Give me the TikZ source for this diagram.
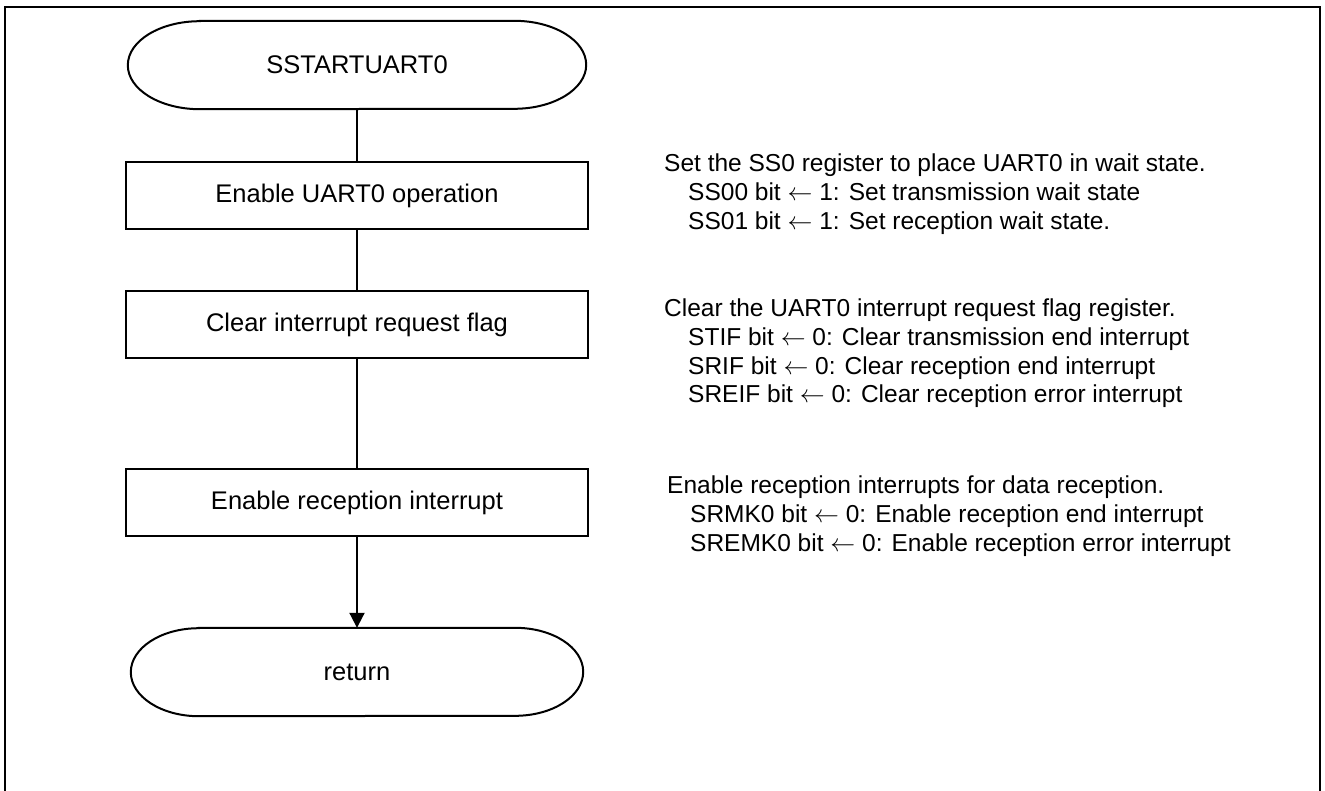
\documentclass[tikz,border=0pt]{standalone}
\usepackage{fontspec}
\setmainfont{Liberation Sans}
\usetikzlibrary{arrows.meta}
\begin{document}
\begin{tikzpicture}[x=1pt,y=-1pt,
  line/.style={line width=2pt},
  proc/.style={draw, line width=2pt, minimum width=462pt, minimum height=67pt, inner sep=0pt, font=\fontsize{25.5}{30}\selectfont},
  term/.style={minimum height=88pt, inner sep=0pt, font=\fontsize{25.5}{30}\selectfont},
  note/.style={anchor=base west, inner sep=0pt, font=\fontsize{24.5}{29}\selectfont},
  ]
\useasboundingbox (0,0) rectangle (1325,790);
\draw[line width=2.5pt] (5,791) -- (5,7) -- (1320,7) -- (1320,791);

% start terminator
\node[term, minimum width=458pt] (start) at (357,65) {SSTARTUART0};
\draw[line] ([xshift=72pt]start.north west) -- ([xshift=-72pt]start.north east)
  arc[start angle=90,end angle=-90,x radius=72pt,y radius=44pt]
  -- ([xshift=72pt]start.south west)
  arc[start angle=270,end angle=90,x radius=72pt,y radius=44pt] -- cycle;

\node[proc] (b1) at (357,195.5) {Enable UART0 operation};
\node[proc] (b2) at (357,324.5) {Clear interrupt request flag};
\node[proc] (b3) at (357,502.5) {Enable reception interrupt};

% return terminator
\node[term, minimum width=452pt] (ret) at (357,672) {return};
\draw[line] ([xshift=68pt]ret.north west) -- ([xshift=-68pt]ret.north east)
  arc[start angle=90,end angle=-90,x radius=68pt,y radius=44pt]
  -- ([xshift=68pt]ret.south west)
  arc[start angle=270,end angle=90,x radius=68pt,y radius=44pt] -- cycle;

\draw[line] (start) -- (b1);
\draw[line] (b1) -- (b2);
\draw[line] (b2) -- (b3);
\draw[line, -{Triangle[length=15pt,width=15pt]}] (b3) -- (ret);

% notes
\node[note] (n1a) at (664,171) {Set the SS0 register to place UART0 in wait state.};
\node[note] (n1b) at (688,200) {SS00 bit $\leftarrow$ 1: Set transmission wait state};
\node[note] (n1c) at (688,229) {SS01 bit $\leftarrow$ 1: Set reception wait state.};

\node[note] (n2a) at (664,316) {Clear the UART0 interrupt request flag register.};
\node[note] (n2b) at (688,345) {STIF bit $\leftarrow$ 0: Clear transmission end interrupt};
\node[note] (n2c) at (688,374) {SRIF bit $\leftarrow$ 0: Clear reception end interrupt};
\node[note] (n2d) at (688,402) {SREIF bit $\leftarrow$ 0: Clear reception error interrupt};

\node[note] (n3a) at (667,493) {Enable reception interrupts for data reception.};
\node[note] (n3b) at (690,522) {SRMK0 bit $\leftarrow$ 0: Enable reception end interrupt};
\node[note] (n3c) at (690,551) {SREMK0 bit $\leftarrow$ 0: Enable reception error interrupt};
\end{tikzpicture}
\end{document}
